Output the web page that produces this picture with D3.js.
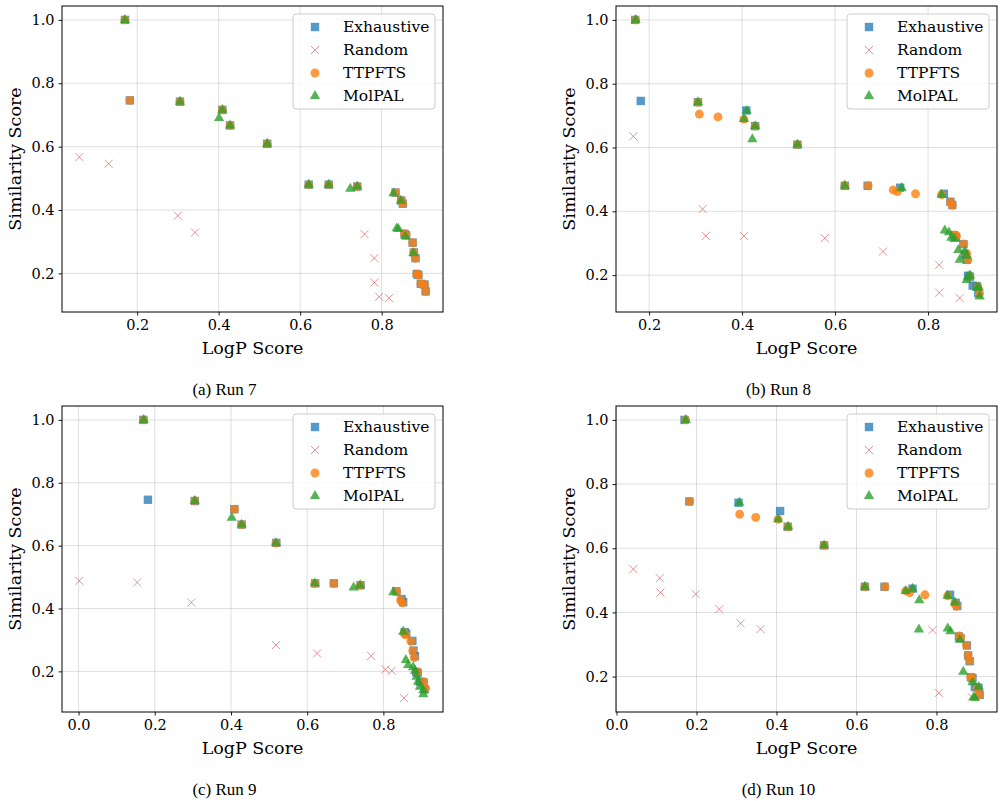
<!DOCTYPE html>
<meta charset="utf-8">
<html>
<head>
  <title>Pareto fronts per run</title>
  <style>
    body { margin: 0; background: #fff; }
    svg { display: block; }
    .tick text { font-family: 'DejaVu Serif', serif; font-size: 14.5px; fill: #000; }
    .axlabel { font-family: 'DejaVu Serif', serif; font-size: 17.5px; fill: #000; }
    .legend text { font-family: 'DejaVu Serif', serif; font-size: 15.5px; fill: #000; }
    .caption { font-family: 'Liberation Serif', serif; font-size: 17px; fill: #000; }
    .grid line { stroke: #b0b0b0; stroke-opacity: 0.5; stroke-width: 0.8px; }
  </style>
  <script src="https://d3js.org/d3.v7.min.js"></script>
</head>
<body>
  <svg width="1004" height="801"></svg>
  <script>
    // [logP, similarity] pairs

    // exhaustive search gives the same front in every run
    var exhaustive = [[0.170,1.000],[0.182,0.746],[0.305,0.742],[0.409,0.716],[0.428,0.667],[0.519,0.609],
      [0.621,0.480],[0.670,0.480],[0.740,0.474],[0.834,0.455],[0.848,0.430],[0.852,0.420],[0.856,0.325],
      [0.860,0.320],[0.876,0.297],[0.879,0.266],[0.883,0.248],[0.886,0.198],[0.890,0.195],[0.896,0.167],
      [0.905,0.165],[0.908,0.143]];

    // run 7
    var random7 = [[0.058,0.567],[0.130,0.546],[0.300,0.382],[0.342,0.329],[0.758,0.324],[0.782,0.248],
      [0.782,0.171],[0.794,0.126],[0.818,0.122]];
    var ttpfts7 = [[0.170,1.000],[0.182,0.746],[0.305,0.742],[0.409,0.716],[0.428,0.667],[0.519,0.609],
      [0.621,0.480],[0.670,0.480],[0.740,0.474],[0.834,0.455],[0.848,0.430],[0.852,0.420],[0.856,0.325],
      [0.860,0.320],[0.876,0.297],[0.879,0.266],[0.883,0.248],[0.886,0.198],[0.890,0.195],[0.896,0.167],
      [0.905,0.165],[0.908,0.143]];
    var molpal7 = [[0.170,1.000],[0.305,0.742],[0.409,0.716],[0.401,0.690],[0.428,0.667],[0.519,0.609],
      [0.621,0.480],[0.670,0.480],[0.723,0.467],[0.740,0.474],[0.829,0.453],[0.847,0.429],[0.837,0.342],
      [0.841,0.340],[0.858,0.317],[0.878,0.264]];

    // run 8
    var random8 = [[0.166,0.635],[0.315,0.407],[0.322,0.323],[0.404,0.323],[0.578,0.316],[0.703,0.274],
      [0.824,0.232],[0.824,0.145],[0.868,0.128]];
    var ttpfts8 = [[0.171,1.000],[0.305,0.742],[0.308,0.705],[0.348,0.696],[0.404,0.689],[0.428,0.667],
      [0.519,0.609],[0.621,0.480],[0.671,0.480],[0.725,0.467],[0.734,0.462],[0.773,0.455],[0.829,0.452],
      [0.848,0.429],[0.852,0.419],[0.857,0.326],[0.861,0.322],[0.877,0.298],[0.883,0.268],[0.886,0.248],
      [0.890,0.196],[0.907,0.164],[0.911,0.143]];
    var molpal8 = [[0.171,1.000],[0.305,0.742],[0.410,0.715],[0.404,0.689],[0.422,0.626],[0.428,0.667],
      [0.519,0.609],[0.621,0.480],[0.743,0.473],[0.829,0.452],[0.836,0.340],[0.845,0.334],[0.850,0.317],
      [0.857,0.313],[0.865,0.279],[0.868,0.248],[0.879,0.274],[0.883,0.261],[0.883,0.185],[0.886,0.195],
      [0.890,0.199],[0.905,0.160],[0.909,0.162],[0.911,0.133]];

    // run 9
    var random9 = [[0.002,0.488],[0.154,0.483],[0.296,0.419],[0.518,0.284],[0.626,0.257],[0.768,0.249],
      [0.805,0.206],[0.822,0.202],[0.854,0.115]];
    var ttpfts9 = [[0.171,1.000],[0.305,0.743],[0.409,0.716],[0.428,0.667],[0.518,0.608],[0.620,0.480],
      [0.670,0.480],[0.739,0.474],[0.835,0.454],[0.845,0.427],[0.850,0.418],[0.855,0.323],[0.858,0.316],
      [0.872,0.296],[0.877,0.266],[0.881,0.244],[0.890,0.198],[0.906,0.167],[0.911,0.146]];
    var molpal9 = [[0.171,1.000],[0.305,0.742],[0.402,0.689],[0.428,0.667],[0.518,0.608],[0.620,0.480],
      [0.722,0.467],[0.739,0.474],[0.826,0.452],[0.852,0.326],[0.859,0.236],[0.865,0.220],[0.878,0.213],
      [0.883,0.202],[0.887,0.183],[0.891,0.167],[0.896,0.151],[0.905,0.140],[0.905,0.127]];

    // run 10
    var random10 = [[0.042,0.535],[0.108,0.507],[0.110,0.462],[0.198,0.457],[0.257,0.410],[0.310,0.366],
      [0.360,0.348],[0.790,0.345],[0.806,0.149],[0.888,0.136]];
    var ttpfts10 = [[0.173,1.000],[0.183,0.746],[0.308,0.706],[0.348,0.696],[0.404,0.690],[0.429,0.667],
      [0.519,0.609],[0.621,0.480],[0.671,0.480],[0.723,0.467],[0.733,0.462],[0.771,0.455],[0.828,0.452],
      [0.846,0.429],[0.850,0.419],[0.857,0.327],[0.860,0.322],[0.875,0.298],[0.879,0.267],[0.883,0.250],
      [0.886,0.198],[0.888,0.195],[0.902,0.164],[0.908,0.143]];
    var molpal10 = [[0.173,1.000],[0.307,0.742],[0.404,0.690],[0.429,0.667],[0.519,0.609],[0.621,0.480],
      [0.723,0.467],[0.740,0.474],[0.757,0.438],[0.756,0.347],[0.828,0.452],[0.846,0.431],[0.828,0.350],
      [0.835,0.341],[0.858,0.315],[0.867,0.215],[0.890,0.182],[0.893,0.136],[0.896,0.133],[0.906,0.168]];

    var methods = ["Exhaustive", "Random", "TTPFTS", "MolPAL"];
    var captions = ["(a) Run 7", "(b) Run 8", "(c) Run 9", "(d) Run 10"];
    var runs = [
      [exhaustive, random7, ttpfts7, molpal7],
      [exhaustive, random8, ttpfts8, molpal8],
      [exhaustive, random9, ttpfts9, molpal9],
      [exhaustive, random10, ttpfts10, molpal10]
    ];

    var style = {
      Exhaustive: { color: "#1f77b4", opacity: 0.75, symbol: d3.symbolSquare, size: 70 },
      Random:     { color: "#d62728", opacity: 0.5,  symbol: null, size: 4 },
      TTPFTS:     { color: "#ff7f0e", opacity: 0.8,  symbol: d3.symbolCircle, size: 62 },
      MolPAL:     { color: "#2ca02c", opacity: 0.8,  symbol: d3.symbolTriangle, size: 46 }
    };

    var svg = d3.select("svg");
    var w = 381, h = 306;
    var origins = [[62, 6], [616, 6], [62, 406], [616, 406]];

    // matplotlib style auto-limits: data range plus 5% each side
    function padded(vals) {
      var e = d3.extent(vals), p = (e[1] - e[0]) * 0.05;
      return [e[0] - p, e[1] + p];
    }

    function marker(sel, name, x, y) {
      var s = style[name];
      if (name === "Random") {
        var r = s.size;
        sel.append("path")
          .attr("d", "M" + (x - r) + "," + (y - r) + "L" + (x + r) + "," + (y + r) +
                     "M" + (x - r) + "," + (y + r) + "L" + (x + r) + "," + (y - r))
          .attr("stroke", s.color).attr("stroke-opacity", s.opacity)
          .attr("stroke-width", 1).attr("fill", "none");
      } else {
        sel.append("path")
          .attr("d", d3.symbol().type(s.symbol).size(s.size)())
          .attr("transform", "translate(" + x + "," + y + ")")
          .attr("fill", s.color).attr("fill-opacity", s.opacity);
      }
    }

    runs.forEach(function(series, i) {
      var g = svg.append("g")
        .attr("transform", "translate(" + origins[i][0] + "," + origins[i][1] + ")");

      var all = d3.merge(series);
      var x = d3.scaleLinear().domain(padded(all.map(function(d) { return d[0]; }))).range([0, w]);
      var y = d3.scaleLinear().domain(padded(all.map(function(d) { return d[1]; }))).range([h, 0]);
      var xt = x.ticks(5), yt = y.ticks(5);

      // grid
      g.append("g").attr("class", "grid").selectAll("line").data(xt).join("line")
        .attr("x1", x).attr("x2", x).attr("y1", 0).attr("y2", h);
      g.append("g").attr("class", "grid").selectAll("line").data(yt).join("line")
        .attr("y1", y).attr("y2", y).attr("x1", 0).attr("x2", w);

      // points, in legend order so MolPAL ends up on top
      series.forEach(function(pts, k) {
        var layer = g.append("g");
        pts.forEach(function(d) { marker(layer, methods[k], x(d[0]), y(d[1])); });
      });

      // axes
      var ax = g.append("g").attr("transform", "translate(0," + h + ")")
        .call(d3.axisBottom(x).tickValues(xt).tickFormat(d3.format(".1f")).tickSizeOuter(0).tickSize(3.5).tickPadding(4));
      var ay = g.append("g")
        .call(d3.axisLeft(y).tickValues(yt).tickFormat(d3.format(".1f")).tickSizeOuter(0).tickSize(3.5).tickPadding(4));
      [ax, ay].forEach(function(a) {
        a.select(".domain").remove();
        a.selectAll(".tick line").attr("stroke", "#000").attr("stroke-width", 0.9);
      });

      g.append("rect").attr("width", w).attr("height", h)
        .attr("fill", "none").attr("stroke", "#000").attr("stroke-width", 1);

      g.append("text").attr("class", "axlabel")
        .attr("x", w / 2).attr("y", h + 42).attr("text-anchor", "middle")
        .text("LogP Score");
      g.append("text").attr("class", "axlabel")
        .attr("transform", "translate(-41," + (h / 2) + ") rotate(-90)")
        .attr("text-anchor", "middle")
        .text("Similarity Score");

      g.append("text").attr("class", "caption")
        .attr("x", w / 2 - 28).attr("y", h + 83).attr("text-anchor", "middle")
        .text(captions[i]);

      // legend
      var lg = g.append("g").attr("class", "legend").attr("transform", "translate(" + (w - 150) + ",8)");
      lg.append("rect").attr("width", 142).attr("height", 95).attr("rx", 3)
        .attr("fill", "#fff").attr("fill-opacity", 0.8)
        .attr("stroke", "#cccccc").attr("stroke-width", 1);
      methods.forEach(function(m, k) {
        var yy = 13 + k * 23;
        marker(lg, m, 22, yy);
        lg.append("text").attr("x", 50).attr("y", yy).attr("dy", "0.35em").text(m);
      });
    });
  </script>
</body>
</html>
